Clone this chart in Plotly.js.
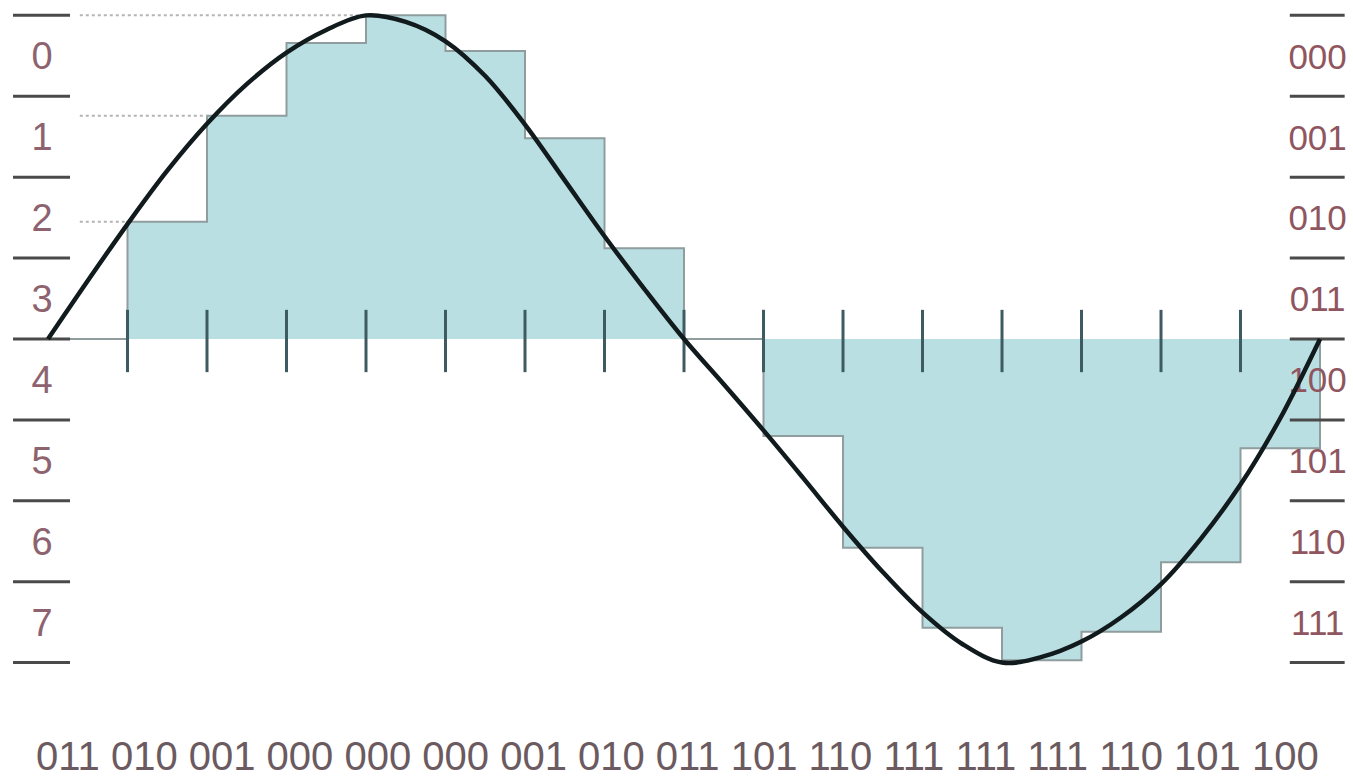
<!DOCTYPE html>
<html>
<head>
<meta charset="utf-8">
<script src="https://cdn.plot.ly/plotly-3.0.1.min.js"></script>
<style>
  html, body { margin: 0; padding: 0; background: #ffffff; }
  #chart { width: 1353px; height: 779px; }
</style>
</head>
<body>
<div id="chart"></div>
<script>
// ---- data ----
// sample index (16 samples per period)
const sampleIdx = [0,1,2,3,4,5,6,7,8,9,10,11,12,13,14,15,16];
// held (sample-and-hold) value of each segment, in quantisation-level units
const heldValues = [0, 1.45, 2.76, 3.66, 4.00, 3.56, 2.48, 1.12, 0, -1.20, -2.58, -3.57, -3.97, -3.62, -2.76, -1.35];
// analogue curve read every half sample
const curveX = [0,0.5,1,1.5,2,2.5,3,3.5,4,4.5,5,5.5,6,6.5,7,7.5,8,8.5,9,9.5,10,10.5,11,11.5,12,12.5,13,13.5,14,14.5,15,15.5,16];
const curveY = [0,0.72,1.42,2.08,2.66,3.15,3.54,3.82,4.00,3.92,3.68,3.25,2.65,1.96,1.27,0.62,0,-0.56,-1.13,-1.72,-2.32,-2.88,-3.38,-3.77,-4.00,-3.93,-3.74,-3.44,-3.03,-2.47,-1.80,-0.98,0];
// quantisation level boundaries and names
const levelEdges = [4,3,2,1,0,-1,-2,-3,-4];
const levelNames = ['0','1','2','3','4','5','6','7'];
const levelCodes = ['000','001','010','011','100','101','110','111'];
// output code stream
const codeStream = ['011','010','001','000','000','000','001','010','011','101','110','111','111','111','110','101','100'];
// segments with a dotted guide line back to the scale
const guideSegments = [1, 2, 4];

// ---- build traces ----
const traces = [];
const fontFam = 'Liberation Sans, Arial, Helvetica, sans-serif';

// step (held) signal with fill
const stepX = [], stepY = [];
for (let i = 0; i < heldValues.length; i++) { stepX.push(sampleIdx[i]); stepY.push(heldValues[i]); }
stepX.push(sampleIdx[heldValues.length]); stepY.push(heldValues[heldValues.length - 1]);
stepX.push(sampleIdx[heldValues.length]); stepY.push(0);
traces.push({
  type: 'scatter', mode: 'lines', x: stepX, y: stepY,
  line: { shape: 'hv', color: '#8f9d9f', width: 2 },
  fill: 'tozeroy', fillcolor: 'rgb(185,223,227)',
  hoverinfo: 'skip', showlegend: false
});

// level labels (drawn under the curve), centred in each level band
const labelShift = -0.05;
const mids = levelNames.map((_, i) => (levelEdges[i] + levelEdges[i + 1]) / 2 + labelShift);
traces.push({
  type: 'scatter', mode: 'text', x: levelNames.map(() => -0.075), y: mids, text: levelNames,
  textposition: 'middle center',
  textfont: { family: fontFam, size: 38, color: '#8d6370' },
  hoverinfo: 'skip', showlegend: false
});
traces.push({
  type: 'scatter', mode: 'text', x: levelCodes.map(() => 15.97), y: mids, text: levelCodes,
  textposition: 'middle center',
  textfont: { family: fontFam, size: 35, color: '#8f5660' },
  hoverinfo: 'skip', showlegend: false
});

// dotted guides
const gX = [], gY = [];
guideSegments.forEach(s => { gX.push(0.4, sampleIdx[s], null); gY.push(heldValues[s], heldValues[s], null); });
traces.push({
  type: 'scatter', mode: 'lines', x: gX, y: gY,
  line: { color: '#b4b4b4', width: 2, dash: 'dot' },
  hoverinfo: 'skip', showlegend: false
});

// sample ticks
const tX = [], tY = [];
for (let k = 1; k < sampleIdx.length - 1; k++) { tX.push(sampleIdx[k], sampleIdx[k], null); tY.push(0.36, -0.41, null); }
traces.push({
  type: 'scatter', mode: 'lines', x: tX, y: tY,
  line: { color: '#3e5b61', width: 3 },
  hoverinfo: 'skip', showlegend: false
});

// level dashes left and right
const dX = [], dY = [];
levelEdges.forEach(v => {
  dX.push(-0.44, 0.277, null); dY.push(v, v, null);
  dX.push(15.62, 16.31, null); dY.push(v, v, null);
});
traces.push({
  type: 'scatter', mode: 'lines', x: dX, y: dY,
  line: { color: '#4a4a4a', width: 3 },
  hoverinfo: 'skip', showlegend: false
});

// analogue curve
traces.push({
  type: 'scatter', mode: 'lines', x: curveX, y: curveY,
  line: { shape: 'spline', smoothing: 1, color: '#111a1c', width: 4.5 },
  hoverinfo: 'skip', showlegend: false
});

// ---- bottom code stream ----
const annotations = [{
  x: 0.5004, y: 0, xref: 'paper', yref: 'paper', text: codeStream.join(' '),
  showarrow: false, xanchor: 'center', yanchor: 'bottom', borderpad: 0,
  font: { family: fontFam, size: 40, color: '#6b5a60' }
}];

const layout = {
  width: 1353, height: 779,
  margin: { l: 0, r: 0, t: 0, b: 0 },
  paper_bgcolor: '#ffffff', plot_bgcolor: '#ffffff',
  xaxis: { range: [-0.6038, 16.415], visible: false, fixedrange: true },
  yaxis: { range: [-5.439, 4.190], visible: false, fixedrange: true },
  annotations: annotations,
  showlegend: false
};

Plotly.newPlot('chart', traces, layout, { displayModeBar: false, staticPlot: true });
</script>
</body>
</html>
